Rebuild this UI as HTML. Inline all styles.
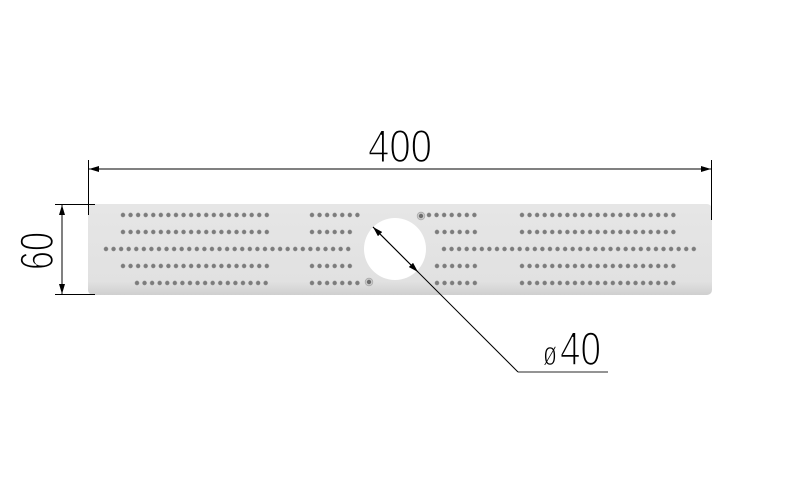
<!DOCTYPE html>
<html><head><meta charset="utf-8"><style>html,body{margin:0;padding:0;background:#fff;}svg{display:block}</style></head>
<body>
<svg width="800" height="495" viewBox="0 0 800 495" xmlns="http://www.w3.org/2000/svg">
<defs>
<pattern id="d" x="0" y="0" width="7.57" height="7.57" patternUnits="userSpaceOnUse">
<circle cx="3.785" cy="3.785" r="2.2" fill="#7c7c7c"/>
</pattern>
<linearGradient id="pg" x1="0" y1="0" x2="0" y2="1">
<stop offset="0" stop-color="#e6e6e6"/><stop offset="0.85" stop-color="#e1e1e1"/><stop offset="1" stop-color="#cfcfcf"/>
</linearGradient>
<marker id="ar" markerWidth="10" markerHeight="6" refX="10" refY="3" orient="auto" markerUnits="userSpaceOnUse">
<path d="M0,0 L10,3 L0,6 z" fill="#000"/></marker>
</defs>
<rect x="88" y="204" width="624" height="91" rx="5" fill="url(#pg)"/>
<circle cx="395" cy="249" r="31" fill="#fff"/>
<g>
<g transform="translate(119.2,211.2)"><rect width="151.4" height="7.57" fill="url(#d)"/></g>
<g transform="translate(308.2,211.2)"><rect width="53" height="7.57" fill="url(#d)"/></g>
<g transform="translate(425.2,211.2)"><rect width="53" height="7.57" fill="url(#d)"/></g>
<g transform="translate(518.2,211.2)"><rect width="159" height="7.57" fill="url(#d)"/></g>

<g transform="translate(119.2,228.2)"><rect width="151.4" height="7.57" fill="url(#d)"/></g>
<g transform="translate(308.2,228.2)"><rect width="45.4" height="7.57" fill="url(#d)"/></g>
<g transform="translate(433.2,228.2)"><rect width="45.4" height="7.57" fill="url(#d)"/></g>
<g transform="translate(518.2,228.2)"><rect width="159" height="7.57" fill="url(#d)"/></g>

<g transform="translate(102.2,245.2)"><rect width="249.8" height="7.57" fill="url(#d)"/></g>
<g transform="translate(440.2,245.2)"><rect width="257.4" height="7.57" fill="url(#d)"/></g>

<g transform="translate(119.2,262.2)"><rect width="151.4" height="7.57" fill="url(#d)"/></g>
<g transform="translate(308.2,262.2)"><rect width="45.4" height="7.57" fill="url(#d)"/></g>
<g transform="translate(433.2,262.2)"><rect width="45.4" height="7.57" fill="url(#d)"/></g>
<g transform="translate(518.2,262.2)"><rect width="159" height="7.57" fill="url(#d)"/></g>

<g transform="translate(133.2,279.2)"><rect width="136.3" height="7.57" fill="url(#d)"/></g>
<g transform="translate(308.2,279.2)"><rect width="53" height="7.57" fill="url(#d)"/></g>
<g transform="translate(433.2,279.2)"><rect width="45.4" height="7.57" fill="url(#d)"/></g>
<g transform="translate(518.2,279.2)"><rect width="159" height="7.57" fill="url(#d)"/></g>
</g>
<circle cx="369" cy="282" r="3.8" fill="#ccc" stroke="#aaa" stroke-width="0.8"/><circle cx="369" cy="282" r="2.2" fill="#6e6e6e"/>
<circle cx="421" cy="216" r="3.8" fill="#ccc" stroke="#aaa" stroke-width="0.8"/><circle cx="421" cy="216" r="2.2" fill="#6e6e6e"/>
<g stroke="#000" stroke-width="1" fill="none">
<line x1="88.5" y1="160" x2="88.5" y2="215"/>
<line x1="711.5" y1="160" x2="711.5" y2="220"/>
<line x1="89" y1="169" x2="711" y2="169" marker-end="url(#ar)"/>
<line x1="711" y1="169" x2="89" y2="169" marker-end="url(#ar)"/>
<line x1="55" y1="204.5" x2="95" y2="204.5"/>
<line x1="55" y1="294.5" x2="95" y2="294.5"/>
<line x1="62" y1="205" x2="62" y2="294" marker-end="url(#ar)"/>
<line x1="62" y1="294" x2="62" y2="205" marker-end="url(#ar)"/>
<line x1="518" y1="372" x2="608" y2="372" stroke="#555" stroke-width="1.3"/>
<line x1="518" y1="372" x2="373" y2="227" marker-end="url(#ar)"/>
<line x1="373" y1="227" x2="418" y2="272" marker-end="url(#ar)"/>
</g>
<g font-family="Liberation Sans, DejaVu Sans, sans-serif" fill="#000" stroke="#fff" stroke-width="1.6">
<text x="368" y="162" font-size="46" textLength="64" lengthAdjust="spacingAndGlyphs">400</text>
<text x="560" y="365" font-size="47" textLength="41" lengthAdjust="spacingAndGlyphs">40</text>
<text x="543" y="365" font-size="34" textLength="14" lengthAdjust="spacingAndGlyphs" stroke-width="1">ø</text>
<text transform="translate(53,270) rotate(-90)" x="0" y="0" font-size="47" textLength="38" lengthAdjust="spacingAndGlyphs">60</text>
</g>
</svg>
</body></html>
